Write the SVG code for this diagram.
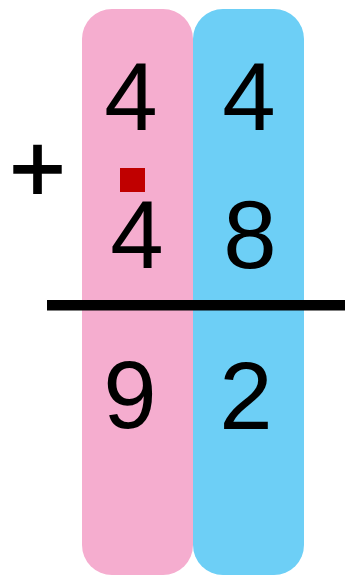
<svg xmlns="http://www.w3.org/2000/svg" width="345" height="575" viewBox="0 0 345 575">
<style>
.d{font-family:"Liberation Sans",Arial,sans-serif;font-size:96px;fill:#000;text-anchor:middle}
</style>
<rect width="345" height="575" fill="#fff"/>
<g id="col-tens"><rect x="82" y="9" width="111" height="566" rx="30" ry="30" fill="#F5ADCF"/></g>
<g id="col-ones"><rect x="193" y="9" width="111" height="566" rx="30" ry="30" fill="#6DCFF6"/></g>
<g id="row1"><text class="d" x="131" y="130">4</text><text class="d" x="249" y="130">4</text></g>
<g id="plus"><text class="d" x="37.5" y="202" font-size="100" stroke="#000" stroke-width="1.8">+</text></g>
<g id="carry"><rect x="120" y="168" width="25" height="24" fill="#C00000"/></g>
<g id="row2"><text class="d" x="137" y="268">4</text><text class="d" x="250" y="268">8</text></g>
<g id="line"><rect x="47" y="300" width="298" height="10.5" fill="#000"/></g>
<g id="row3"><text class="d" x="130" y="428">9</text><text class="d" x="246" y="429">2</text></g>
</svg>
